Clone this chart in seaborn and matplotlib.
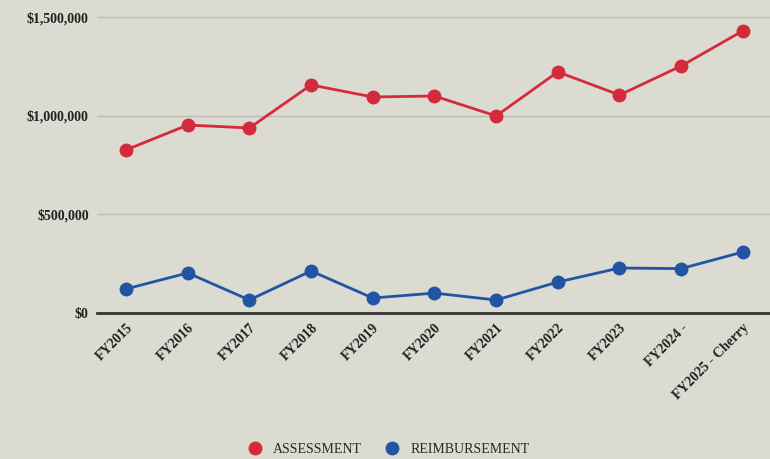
import matplotlib
matplotlib.use("Agg")
import matplotlib.pyplot as plt
import seaborn as sns
import pandas as pd
from matplotlib.ticker import FuncFormatter
from matplotlib.lines import Line2D

years = ["FY2015", "FY2016", "FY2017", "FY2018", "FY2019", "FY2020",
         "FY2021", "FY2022", "FY2023", "FY2024 -", "FY2025 - Cherry"]
assessment = [826000, 952000, 937000, 1155000, 1094000, 1099000,
              998000, 1221000, 1104000, 1251000, 1429000]
reimbursement = [122000, 203000, 66000, 213000, 76000, 101000,
                 66000, 157000, 228000, 225000, 309000]
series_names = ["ASSESSMENT", "REIMBURSEMENT"]
y_ticks = [0, 500000, 1000000, 1500000]

bg = "#dcdbd1"
red = "#d42a3c"
blue = "#2154a3"

sns.set_theme(style="white")
plt.rcParams["font.family"] = ["Liberation Serif", "DejaVu Serif"]

df = pd.DataFrame({
    "year": years * 2,
    "idx": list(range(len(years))) * 2,
    "value": assessment + reimbursement,
    "series": [series_names[0]] * len(years) + [series_names[1]] * len(years),
})

fig = plt.figure(figsize=(7.7, 4.59), dpi=100, facecolor=bg)
ax = fig.add_axes([0.126, 0.318, 0.874, 0.654])
ax.set_facecolor(bg)

sns.lineplot(data=df, x="idx", y="value", hue="series",
             palette=[red, blue], marker="o", markersize=10,
             markeredgewidth=0, linewidth=2.0, ax=ax, legend=False)

ax.set_xlim(-0.47, 10.44)
ax.set_ylim(0, 1520000)
ax.set_yticks(y_ticks)
ax.yaxis.set_major_formatter(FuncFormatter(lambda v, p: f"${v:,.0f}"))
ax.set_xticks(range(len(years)))
ax.set_xticklabels(years, rotation=45, ha="right", rotation_mode="anchor",
                   fontsize=10, fontweight="bold", color="#222222")
for lab in ax.get_yticklabels():
    lab.set_fontsize(10)
    lab.set_fontweight("bold")
    lab.set_color("#222222")
ax.tick_params(axis="both", length=0, pad=6)
ax.grid(axis="y", color="#bdbcb3", linewidth=1.0)
ax.set_xlabel("")
ax.set_ylabel("")
for s in ["top", "right", "left"]:
    ax.spines[s].set_visible(False)
ax.spines["bottom"].set_color("#333333")
ax.spines["bottom"].set_linewidth(2)

handles = [Line2D([], [], marker="o", linestyle="", markersize=9,
                  color=c) for c in (red, blue)]
fig.legend(handles, series_names, loc="center", bbox_to_anchor=(0.5, 0.02),
           ncol=2, frameon=False, fontsize=10, handletextpad=0.3,
           columnspacing=1.2)

fig.savefig("out.png", dpi=100, facecolor=bg)
